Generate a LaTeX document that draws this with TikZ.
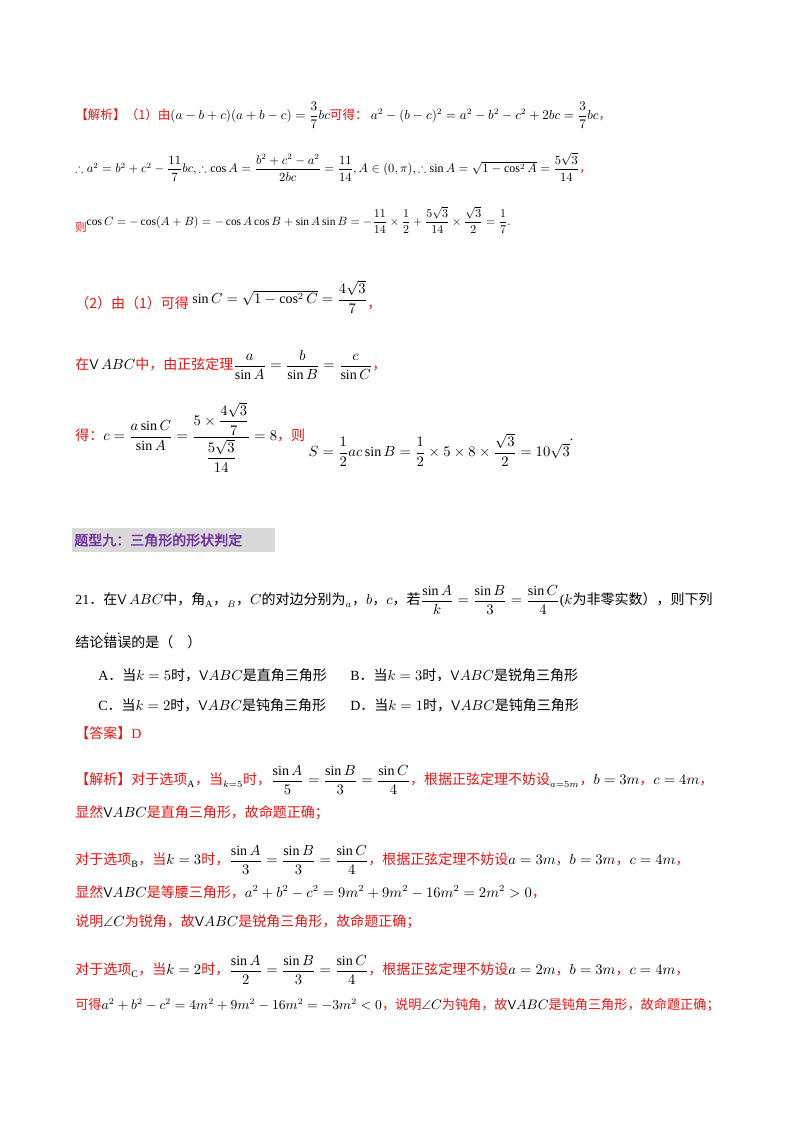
\documentclass[tikz,border=0pt]{standalone}
\usepackage{amsmath,amssymb}
\usepackage{fontspec}
\setmainfont{Liberation Serif}
\newfontfamily\cjk{Noto Sans CJK SC}
\newfontfamily\cjkb{Noto Sans CJK SC}[BoldFont=*,FakeBold=2]
\definecolor{myred}{RGB}{230,20,20}
\definecolor{mypurple}{RGB}{112,48,160}
\definecolor{mygray}{RGB}{217,217,217}
\newcommand{\R}[1]{\textcolor{myred}{\cjk #1}}
\newcommand{\C}[1]{{\cjk #1}}
\newcommand{\tri}{\textsf{V}}
\tikzset{line/.style={anchor=west,inner sep=0pt,font=\fontsize{10.5}{12}\selectfont}}
\begin{document}
\begin{tikzpicture}[x=0.75pt,y=-0.75pt]
\useasboundingbox[fill=white] (0,0) rectangle (800,1132);
\node[line] (l1) at (75,115) {\scalebox{0.9}{\R{【解析】（1）由}$(a-b+c)(a+b-c)=\dfrac{3}{7}bc$\R{可得：}\ $a^2-(b-c)^2=a^2-b^2-c^2+2bc=\dfrac37bc$\R{，}}};
\node[line] (l2) at (75,167) {\scalebox{0.86}{$\therefore a^2=b^2+c^2-\dfrac{11}{7}bc,\therefore \cos A=\dfrac{b^2+c^2-a^2}{2bc}=\dfrac{11}{14},A\in(0,\pi),\therefore\sin A=\sqrt{1-\cos^2A}=\dfrac{5\sqrt3}{14}$\R{，}}};
\node[line] (l3) at (75,220) {\scalebox{0.82}{\raisebox{-6pt}{\R{则}}$\cos C=-\cos(A+B)=-\cos A\cos B+\sin A\sin B=-\dfrac{11}{14}\times\dfrac12+\dfrac{5\sqrt3}{14}\times\dfrac{\sqrt3}{2}=\dfrac17$\R{.}}};
\node[line] (l4) at (75,297) {\R{（2）由（1）可得}\ \raisebox{4pt}{$\sin C=\sqrt{1-\cos^2C}=\dfrac{4\sqrt3}{7}$}\R{，}};
\node[line] (l5) at (75,365) {\R{在}\tri$\,ABC$\R{中，由正弦定理}$\dfrac{a}{\sin A}=\dfrac{b}{\sin B}=\dfrac{c}{\sin C}$\R{，}};
\node[line] (l6) at (75,437) {\R{得：}$c=\dfrac{a\sin C}{\sin A}=\dfrac{5\times\dfrac{4\sqrt3}{7}}{\dfrac{5\sqrt3}{14}}=8$\R{，则}\ \raisebox{-12pt}{$S=\dfrac12ac\sin B=\dfrac12\times5\times8\times\dfrac{\sqrt3}{2}=10\sqrt3$}.};
\fill[mygray] (72,528) rectangle (275,552);
\node[line,text=mypurple] (h) at (74,540) {\cjkb\bfseries 题型九：三角形的形状判定};
\node[line] (q1) at (75,600) {21\C{．}\C{在}\tri$\,ABC$\C{中，角}\textsubscript{A}\C{，}$_B$\C{，}$C$\C{的对边分别为}$_a$\C{，}$b$\C{，}$c$\C{，若}$\dfrac{\sin A}{k}=\dfrac{\sin B}{3}=\dfrac{\sin C}{4}$($k$\C{为非零实数），则下列}};
\node[line] (q2) at (75,641) {\C{结论}\rlap{\raisebox{10pt}{\,.\hspace{6pt}.}}\C{错误的是（\quad ）}};
\node[line] (oa) at (98,675) {A\C{．当}$k=5$\C{时，}\tri$ABC$\C{是直角三角形}};
\node[line] (ob) at (350,675) {B\C{．当}$k=3$\C{时，}\tri$ABC$\C{是锐角三角形}};
\node[line] (oc) at (98,705) {C\C{．当}$k=2$\C{时，}\tri$ABC$\C{是钝角三角形}};
\node[line] (od) at (350,705) {D\C{．当}$k=1$\C{时，}\tri$ABC$\C{是钝角三角形}};
\node[line] (ans) at (75,733) {\R{【答案】}\textcolor{myred}{D}};
\node[line] (s1) at (75,780) {\R{【解析】对于选项}\textsubscript{A}\R{，当}$_{k=5}$\R{时，}$\dfrac{\sin A}{5}=\dfrac{\sin B}{3}=\dfrac{\sin C}{4}$\R{，根据正弦定理不妨设}$_{a=5m}$\R{，}$b=3m$\R{，}$c=4m$\R{，}};
\node[line] (s2) at (75,813) {\R{显然}\tri$ABC$\R{是直角三角形，故命题正确；}};
\node[line] (s3) at (75,860) {\R{对于选项}\textsubscript{B}\R{，当}$k=3$\R{时，}$\dfrac{\sin A}{3}=\dfrac{\sin B}{3}=\dfrac{\sin C}{4}$\R{，根据正弦定理不妨设}$a=3m$\R{，}$b=3m$\R{，}$c=4m$\R{，}};
\node[line] (s4) at (75,892) {\R{显然}\tri$ABC$\R{是等腰三角形，}$a^2+b^2-c^2=9m^2+9m^2-16m^2=2m^2>0$\R{，}};
\node[line] (s5) at (75,922) {\R{说明}$\angle C$\R{为锐角，故}\tri$ABC$\R{是锐角三角形，故命题正确；}};
\node[line] (s6) at (75,970) {\R{对于选项}\textsubscript{C}\R{，当}$k=2$\R{时，}$\dfrac{\sin A}{2}=\dfrac{\sin B}{3}=\dfrac{\sin C}{4}$\R{，根据正弦定理不妨设}$a=2m$\R{，}$b=3m$\R{，}$c=4m$\R{，}};
\node[line] (s7) at (75,1005) {\scalebox{0.94}{\R{可得}$a^2+b^2-c^2=4m^2+9m^2-16m^2=-3m^2<0$\R{，说明}$\angle C$\R{为钝角，故}\tri$ABC$\R{是钝角三角形，故命题正确；}}};
\end{tikzpicture}
\end{document}
